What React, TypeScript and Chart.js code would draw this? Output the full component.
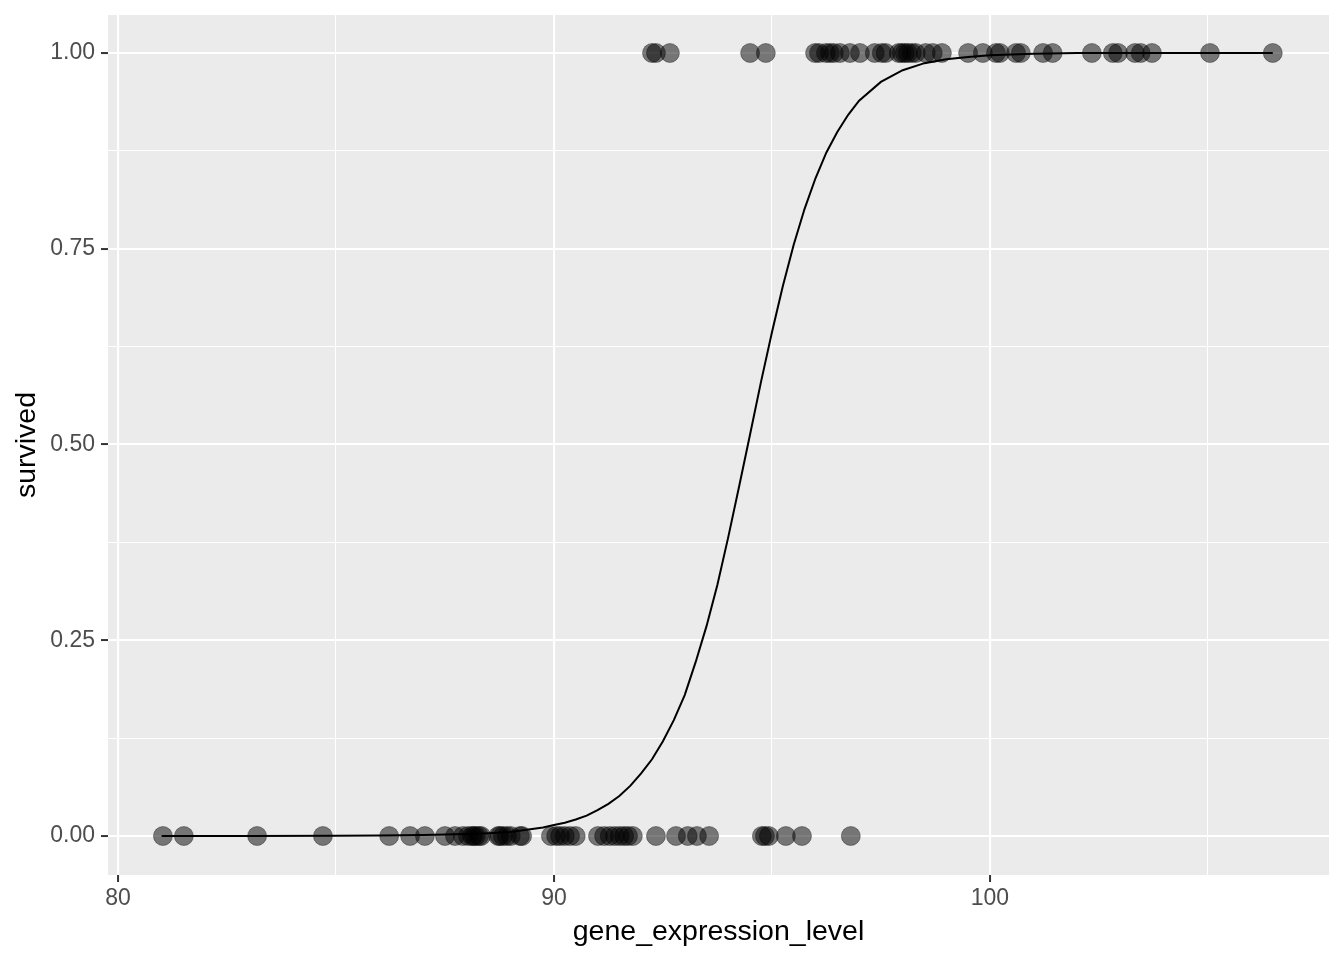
import React, { useEffect, useRef } from "react";
import { Chart, registerables } from "chart.js";

Chart.register(...registerables);

// Observed points (gene_expression_level) with survived = 0
const deadX: number[] = [
  81.03, 81.51, 83.19, 84.7, 86.22, 86.7, 87.04, 87.5, 87.73, 87.91, 88.03, 88.12,
  88.16, 88.21, 88.28, 88.33, 88.72, 88.76, 88.83, 88.92, 89.01, 89.22, 89.27,
  89.93, 90.05, 90.14, 90.25, 90.37, 90.5, 91.01, 91.15, 91.28, 91.4, 91.51, 91.61,
  91.7, 91.81, 92.34, 92.8, 93.07, 93.28, 93.56, 94.77, 94.84, 94.93, 95.32, 95.69,
  96.81,
];
// Observed points with survived = 1
const aliveX: number[] = [
  92.25, 92.34, 92.66, 94.5, 94.86, 95.99, 96.08, 96.24, 96.33, 96.42, 96.56, 96.79,
  97.02, 97.36, 97.52, 97.61, 97.91, 97.98, 98.05, 98.12, 98.21, 98.3, 98.53, 98.69,
  98.9, 99.5, 99.84, 100.14, 100.23, 100.6, 100.71, 101.22, 101.44, 102.34, 102.82,
  102.94, 103.33, 103.46, 103.72, 105.05, 106.49,
];
// Fitted logistic curve
const curveX: number[] = [
  81, 83, 85, 86, 87, 88, 88.5, 89, 89.25, 89.5, 89.75, 90, 90.25, 90.5, 90.75, 91,
  91.25, 91.5, 91.75, 92, 92.25, 92.5, 92.75, 93, 93.25, 93.5, 93.75, 94, 94.25, 94.5,
  94.75, 95, 95.25, 95.5, 95.75, 96, 96.25, 96.5, 96.75, 97, 97.5, 98, 98.5, 99, 99.5,
  100, 101, 102, 104, 106.49,
];
const curveY: number[] = [
  0, 0.0001, 0.0003, 0.0006, 0.0012, 0.0025, 0.0035, 0.005, 0.007, 0.009, 0.011,
  0.014, 0.017, 0.021, 0.026, 0.033, 0.041, 0.051, 0.064, 0.08, 0.098, 0.121, 0.148,
  0.18, 0.222, 0.268, 0.321, 0.382, 0.447, 0.513, 0.58, 0.643, 0.702, 0.755, 0.801,
  0.84, 0.873, 0.899, 0.921, 0.939, 0.963, 0.978, 0.987, 0.992, 0.995, 0.997, 0.999,
  1.0, 1.0, 1.0,
];
const xGridTicks: number[] = [80, 85, 90, 95, 100, 105];
const xLabelTicks: number[] = [80, 90, 100];
const yGridTicks: number[] = [0, 0.125, 0.25, 0.375, 0.5, 0.625, 0.75, 0.875, 1];
const yLabelTicks: number[] = [0, 0.25, 0.5, 0.75, 1];

const FONT = "'Liberation Sans', Arial, Helvetica, sans-serif";

const panelBg = {
  id: "panelBg",
  beforeDraw(chart: any) {
    const { ctx, chartArea } = chart;
    ctx.save();
    ctx.fillStyle = "#EBEBEB";
    ctx.fillRect(chartArea.left, chartArea.top, chartArea.right - chartArea.left, chartArea.bottom - chartArea.top);
    ctx.restore();
  },
};

export default function App() {
  const ref = useRef<HTMLCanvasElement | null>(null);
  useEffect(() => {
    if (!ref.current) return;
    const isMajor = (list: number[], v: number) => list.some((t) => Math.abs(t - v) < 1e-6);
    const chart = new Chart(ref.current, {
      type: "scatter",
      data: {
        datasets: [
          {
            type: "line",
            data: curveX.map((x, i) => ({ x, y: curveY[i] })),
            borderColor: "#000000",
            borderWidth: 2,
            pointRadius: 0,
            tension: 0,
            fill: false,
            order: 0,
          } as any,
          {
            data: [
              ...deadX.map((x) => ({ x, y: 0 })),
              ...aliveX.map((x) => ({ x, y: 1 })),
            ],
            backgroundColor: "rgba(0,0,0,0.5)",
            borderColor: "rgba(0,0,0,0.35)",
            borderWidth: 1,
            pointRadius: 9.5,
            order: 1,
          },
        ],
      },
      options: {
        animation: false,
        responsive: true,
        maintainAspectRatio: false,
        layout: { autoPadding: false, padding: { top: 15, right: 15, left: 0, bottom: 0 } },
        plugins: { legend: { display: false }, tooltip: { enabled: false } },
        scales: {
          x: {
            type: "linear",
            min: 79.77,
            max: 107.78,
            afterBuildTicks: (s: any) => {
              s.ticks = xGridTicks.map((v) => ({ value: v }));
            },
            afterFit: (s: any) => {
              s.height = 85;
              s.paddingLeft = 0;
              s.paddingRight = 0;
            },
            border: { display: false },
            grid: {
              color: "#FFFFFF",
              lineWidth: (c: any) => (isMajor(xLabelTicks, c.tick.value) ? 2.1 : 1.05),
              tickColor: (c: any) => (isMajor(xLabelTicks, c.tick.value) ? "#333333" : "rgba(0,0,0,0)"),
              tickLength: 7,
              tickWidth: 2,
            },
            ticks: {
              autoSkip: false,
              maxRotation: 0,
              padding: 3,
              color: "#4D4D4D",
              font: { family: FONT, size: 23 },
              callback: (v: any) => (isMajor(xLabelTicks, Number(v)) ? String(v) : ""),
            },
            title: {
              display: true,
              text: "gene_expression_level",
              color: "#000000",
              font: { family: FONT, size: 28.5 },
              padding: { top: 0, bottom: 11 },
            },
          },
          y: {
            type: "linear",
            min: -0.0498,
            max: 1.0485,
            afterBuildTicks: (s: any) => {
              s.ticks = yGridTicks.map((v) => ({ value: v }));
            },
            afterFit: (s: any) => {
              s.width = 108;
              s.paddingTop = 0;
              s.paddingBottom = 0;
            },
            border: { display: false },
            grid: {
              color: "#FFFFFF",
              lineWidth: (c: any) => (isMajor(yLabelTicks, c.tick.value) ? 2.1 : 1.05),
              tickColor: (c: any) => (isMajor(yLabelTicks, c.tick.value) ? "#333333" : "rgba(0,0,0,0)"),
              tickLength: 7,
              tickWidth: 2,
            },
            ticks: {
              autoSkip: false,
              padding: 6,
              color: "#4D4D4D",
              font: { family: FONT, size: 23 },
              callback: (v: any) => (isMajor(yLabelTicks, Number(v)) ? Number(v).toFixed(2) : ""),
            },
            title: {
              display: true,
              text: "survived",
              color: "#000000",
              font: { family: FONT, size: 28.5 },
              padding: { top: 10, bottom: 0 },
            },
          },
        },
      },
      plugins: [panelBg],
    });
    return () => chart.destroy();
  }, []);
  return (
    <div style={{ position: "fixed", left: 0, top: 0, width: 1344, height: 960, background: "#FFFFFF" }}>
      <canvas ref={ref} />
    </div>
  );
}
